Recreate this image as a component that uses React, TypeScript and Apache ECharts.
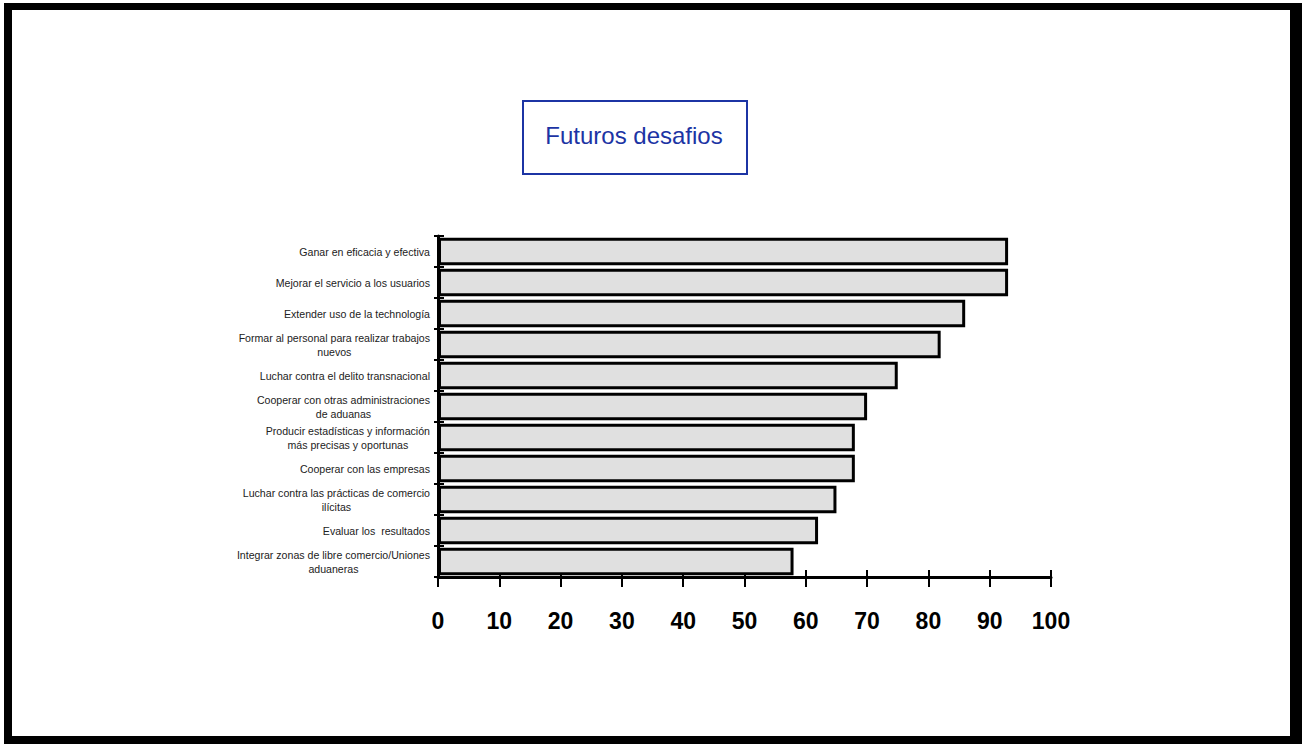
import React, { useEffect, useRef } from "react";
import * as echarts from "echarts";

const categories = [
  "Ganar en eficacia y efectiva",
  "Mejorar el servicio a los usuarios",
  "Extender uso de la technología",
  "Formar al personal para realizar trabajos\nnuevos",
  "Luchar contra el delito transnacional",
  "Cooperar con otras administraciones\nde aduanas",
  "Producir estadísticas y información\nmás precisas y oportunas",
  "Cooperar con las empresas",
  "Luchar contra las prácticas de comercio\nilícitas",
  "Evaluar los  resultados",
  "Integrar zonas de libre comercio/Uniones\naduaneras",
];

const values = [93, 93, 86, 82, 75, 70, 68, 68, 65, 62, 58];

const titleText = "Futuros desafios";

export default function App() {
  const ref = useRef<HTMLDivElement>(null);

  useEffect(() => {
    if (!ref.current) return;
    const chart = echarts.init(ref.current, undefined, { renderer: "svg" });
    const font = "Arial, 'Liberation Sans', sans-serif";
    const blue = "#1c34a4";
    chart.setOption({
      animation: false,
      backgroundColor: "#ffffff",
      grid: { left: 438, right: 251, top: 236, bottom: 167, containLabel: false },
      xAxis: [
        {
          type: "value",
          min: 0,
          max: 100,
          interval: 10,
          position: "bottom",
          axisLine: { show: true, lineStyle: { color: "#000", width: 3 } },
          axisTick: { show: true, inside: false, length: 10, lineStyle: { color: "#000", width: 2 } },
          axisLabel: {
            show: true,
            margin: 32,
            fontFamily: font,
            fontWeight: "bold",
            fontSize: 23,
            color: "#000",
          },
          splitLine: { show: false },
        },
        {
          type: "value",
          min: 0,
          max: 100,
          interval: 10,
          position: "bottom",
          offset: 0,
          axisLine: { show: false },
          axisTick: { show: true, inside: true, length: 7, lineStyle: { color: "#000", width: 2 } },
          axisLabel: { show: false },
          splitLine: { show: false },
        },
      ],
      yAxis: [
        {
          type: "category",
          data: categories,
          inverse: true,
          position: "left",
          axisLine: { show: true, lineStyle: { color: "#000", width: 3 } },
          axisTick: { show: true, inside: false, length: 4, lineStyle: { color: "#000", width: 2 } },
          axisLabel: {
            show: true,
            margin: 8,
            formatter: (v: string) =>
              v
                .split("\n")
                .map((l) => `{c|${l}}`)
                .join("\n"),
            rich: {
              c: {
                align: "center",
                fontFamily: font,
                fontSize: 10.6,
                lineHeight: 14,
                color: "#222",
              },
            },
          },
          splitLine: { show: false },
        },
        {
          type: "category",
          data: categories,
          inverse: true,
          position: "left",
          offset: 0,
          axisLine: { show: false },
          axisTick: { show: true, inside: true, length: 6, lineStyle: { color: "#000", width: 2 } },
          axisLabel: { show: false },
          splitLine: { show: false },
        },
      ],
      series: [
        {
          type: "bar",
          xAxisIndex: 0,
          yAxisIndex: 0,
          data: values,
          barCategoryGap: "11%",
          itemStyle: { color: "#e0e0e0", borderColor: "#000", borderWidth: 3 },
          z: 1,
        },
      ],
      graphic: [
        { type: "rect", shape: { x: 4, y: 3, width: 8, height: 741 }, style: { fill: "#000" }, z: 100 },
        { type: "rect", shape: { x: 4, y: 3, width: 1298, height: 7 }, style: { fill: "#000" }, z: 100 },
        { type: "rect", shape: { x: 1290, y: 3, width: 12, height: 741 }, style: { fill: "#000" }, z: 100 },
        { type: "rect", shape: { x: 4, y: 736, width: 1298, height: 8 }, style: { fill: "#000" }, z: 100 },
        {
          type: "rect",
          shape: { x: 523, y: 101, width: 224, height: 73 },
          style: { fill: "none", stroke: blue, lineWidth: 2 },
          z: 100,
        },
        {
          type: "text",
          x: 634,
          y: 135,
          style: {
            text: titleText,
            fill: blue,
            font: `24px ${font}`,
            textAlign: "center",
            textVerticalAlign: "middle",
          },
          z: 101,
        },
      ],
    });
    return () => chart.dispose();
  }, []);

  return (
    <div
      ref={ref}
      style={{ position: "fixed", left: 0, top: 0, width: 1302, height: 744 }}
    />
  );
}
